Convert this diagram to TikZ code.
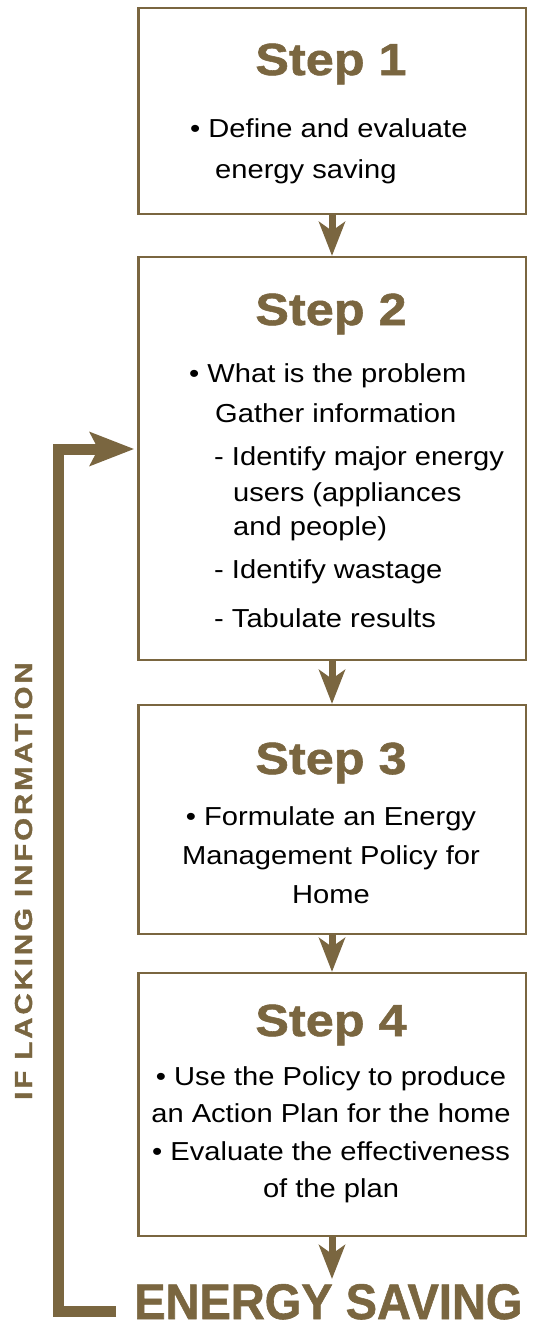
\documentclass[tikz,border=0pt]{standalone}
\usepackage{fontspec}
\usetikzlibrary{arrows.meta}
\setmainfont{Liberation Sans}
\newfontfamily\bodyf[FakeStretch=1.12]{Liberation Sans}
\newfontfamily\titlef[FakeStretch=1.12, FakeBold=1.2]{Liberation Sans Bold}
\newfontfamily\bigf[FakeStretch=0.94, FakeBold=1.2]{Liberation Sans Bold}
\newfontfamily\sidef[FakeStretch=1.2, LetterSpace=12, FakeBold=1.5]{Liberation Sans Bold}
\definecolor{brn}{RGB}{122,102,64}
\tikzset{
  box/.style={draw=brn, line width=2.2pt, fill=white, inner sep=0pt},
  title/.style={inner sep=0pt, anchor=base, text=brn, font=\titlef\fontsize{45}{50}\selectfont},
  bodyl/.style={inner sep=0pt, anchor=base west, text=black, font=\bodyf\fontsize{26}{30}\selectfont},
  bodyc/.style={inner sep=0pt, anchor=base, text=black, font=\bodyf\fontsize{26}{30}\selectfont},
  darr/.style={draw=brn, line width=7pt, -{Stealth[length=34pt, width=26pt, inset=9pt]}},
  fbarr/.style={draw=brn, line width=11pt, line join=miter, -{Stealth[length=44pt, width=33pt, inset=8pt]}}
}
\begin{document}
\begin{tikzpicture}[x=1pt, y=-1pt]
\useasboundingbox (0,0) rectangle (533,1331);
% boxes
\node[box, minimum width=387.2pt, minimum height=206.2pt] (b1) at (332,110.9) {};
\node[box, minimum width=387.2pt, minimum height=403pt] (b2) at (332,458.5) {};
\node[box, minimum width=387.2pt, minimum height=229pt] (b3) at (332,819.5) {};
\node[box, minimum width=387.2pt, minimum height=263pt] (b4) at (332,1104.5) {};
% titles
\node[title] (t1) at (331,75) {Step 1};
\node[title] (t2) at (331,325) {Step 2};
\node[title] (t3) at (331,774) {Step 3};
\node[title] (t4) at (331,1036) {Step 4};
% box 1 text
\node[bodyl] (l11) at (190,137) {• Define and evaluate};
\node[bodyl] (l12) at (215,178) {energy saving};
% box 2 text
\node[bodyl] (l21) at (189,382) {• What is the problem};
\node[bodyl] (l22) at (215,422) {Gather information};
\node[bodyl] (l23) at (214,465) {- Identify major energy};
\node[bodyl] (l24) at (233,501) {users (appliances};
\node[bodyl] (l25) at (233,535) {and people)};
\node[bodyl] (l26) at (214,578) {- Identify wastage};
\node[bodyl] (l27) at (214,627) {- Tabulate results};
% box 3 text
\node[bodyc] (l31) at (331,825) {• Formulate an Energy};
\node[bodyc] (l32) at (331,864) {Management Policy for};
\node[bodyc] (l33) at (331,903) {Home};
% box 4 text
\node[bodyc] (l41) at (331,1085) {• Use the Policy to produce};
\node[bodyc] (l42) at (331,1122) {an Action Plan for the home};
\node[bodyc] (l43) at (331,1160) {• Evaluate the effectiveness};
\node[bodyc] (l44) at (331,1197) {of the plan};
% bottom label
\node[inner sep=0pt, anchor=base west, text=brn, font=\bigf\fontsize{50}{55}\selectfont] (es) at (134,1319) {ENERGY SAVING};
\coordinate (esT) at (332,1279);
% side label
\node[inner sep=0pt, anchor=base west, rotate=90, text=brn, font=\sidef\fontsize{24.5}{27}\selectfont] (lack) at (32,1100) {IF LACKING INFORMATION};
% arrows
\draw[darr] (b1.south) -- (b2.north);
\draw[darr] (b2.south) -- (b3.north);
\draw[darr] (b3.south) -- (b4.north);
\draw[darr] (b4.south) -- (esT);
% feedback loop
\coordinate (fbS) at (116,1311);
\coordinate (fbL) at (58,449);
\draw[fbarr] (fbS) -| (fbL) -- ([xshift=-3pt]fbL -| b2.west);
\end{tikzpicture}
\end{document}
